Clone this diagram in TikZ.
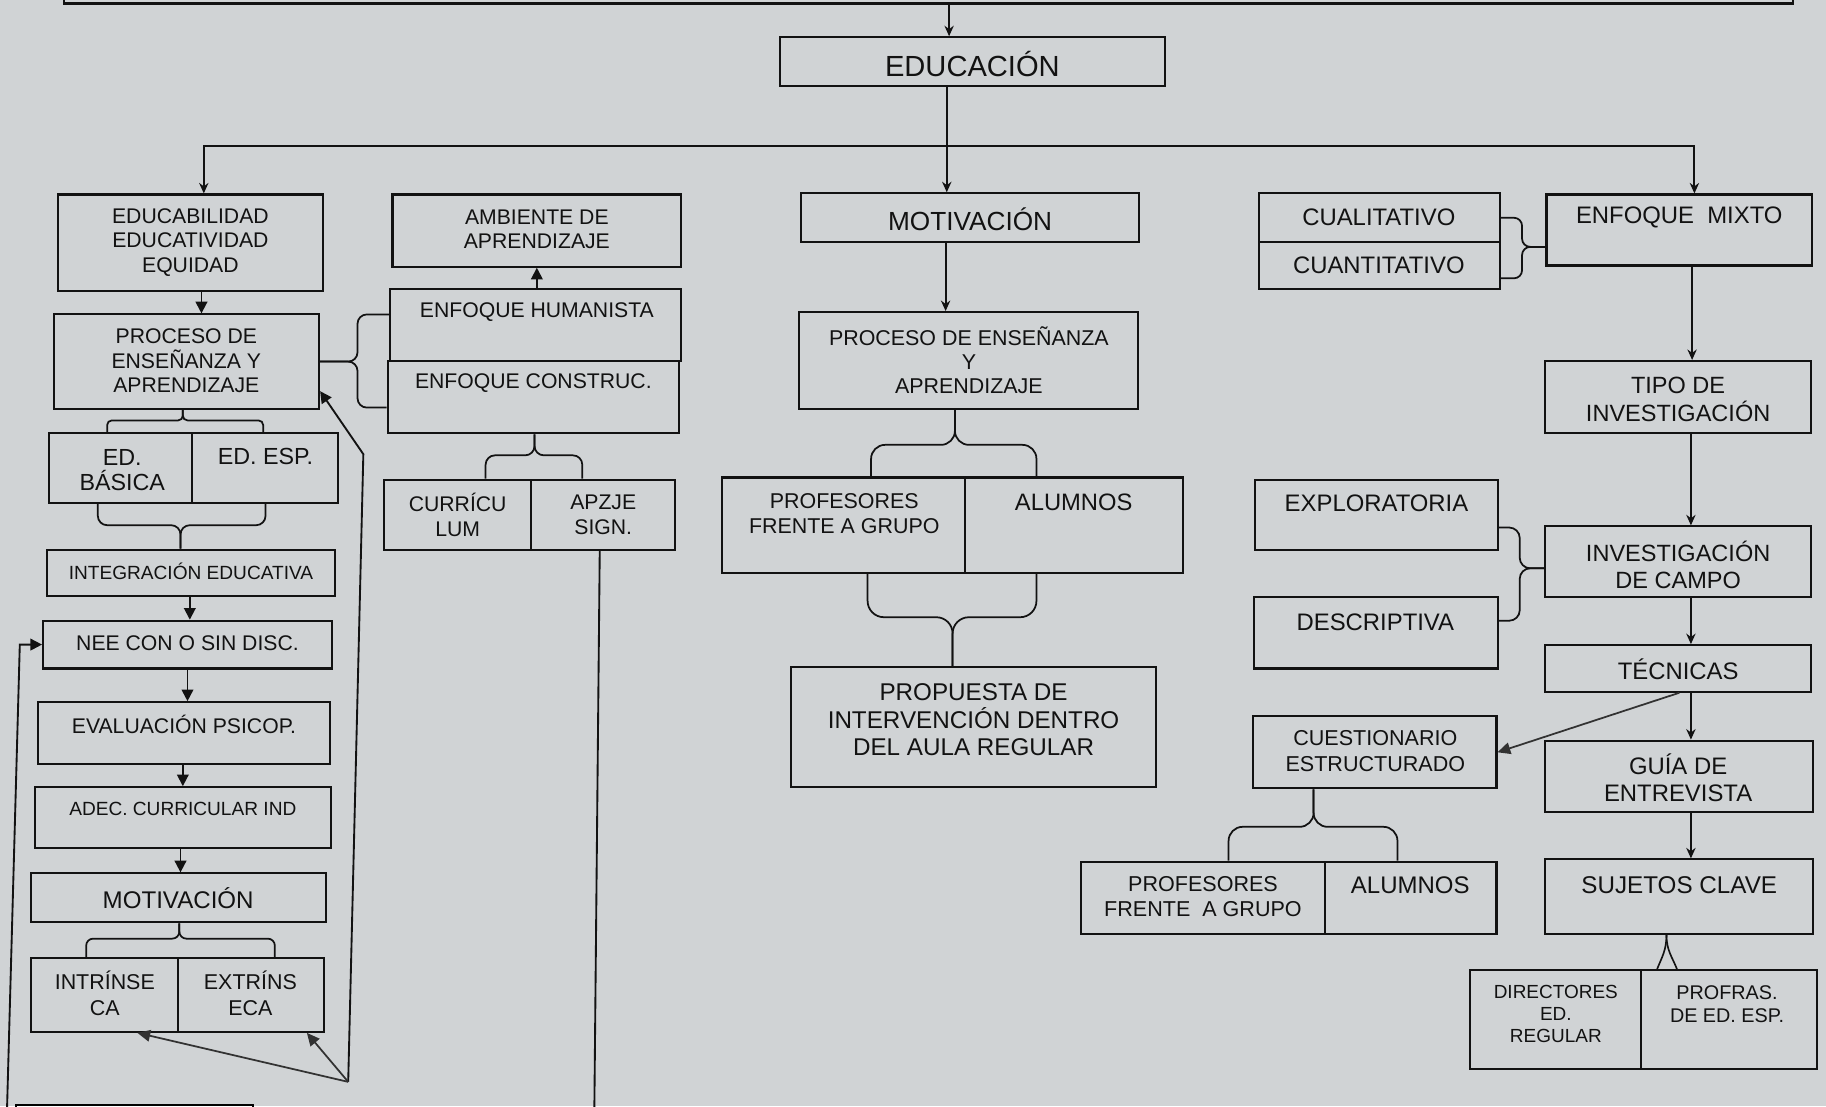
\documentclass[tikz,border=0pt]{standalone}
\usepackage{fontspec}
\setmainfont{Liberation Sans}
\usetikzlibrary{fit,arrows.meta,calc}
\definecolor{bg}{RGB}{208,211,213}
\definecolor{ink}{RGB}{18,18,18}
\definecolor{inkg}{RGB}{50,50,50}
\newcommand\bx[5]{\node[box,fit={(#2,#3)(#4,#5)}] (#1) {};}
\newcommand\tx[5]{\node[txt,#4] (#1) at (#2,#3) {#5};}
\begin{document}
\begin{tikzpicture}[x=1pt,y=-1pt,
  box/.style={draw=ink,line width=1.8pt,inner sep=0pt},
  txt/.style={align=center,inner sep=0pt,text=ink},
  ln/.style={draw=ink,line width=1.6pt},
  arr/.style={ln,-{Stealth[length=9pt,width=8pt]}},
  arrb/.style={ln,-{Triangle[length=10pt,width=10pt]}},
  arrg/.style={draw=inkg,line width=1.5pt,-{Triangle[length=11pt,width=10pt]}},
  brc/.style={ln,line width=1.5pt,rounded corners=#1},
  fA/.style={font=\fontsize{25}{30}\selectfont},
  fM/.style={font=\fontsize{22.5}{27}\selectfont},
  fT/.style={font=\fontsize{20.5}{23.5}\selectfont},
  fE/.style={font=\fontsize{18.2}{21}\selectfont},
  fS/.style={font=\fontsize{16.4}{19}\selectfont}]
\path[use as bounding box,fill=bg] (0,0) rectangle (1568,950);

% ---------- boxes ----------
\bx{topbox}{55}{-40}{1540}{3}
\bx{educacion}{670}{32}{1000}{74}
% left column
\bx{educab}{50}{167}{277}{250}
\bx{pea1}{46}{270}{274}{351}
\bx{edbas}{42}{372}{165}{432}
\bx{edesp}{165}{372}{290}{432}
\bx{integ}{40}{472}{288}{512}
\bx{nee}{37}{533}{285}{574}
\bx{evalp}{33}{603}{283}{656}
\bx{adec}{30}{676}{284}{728}
\bx{motb}{27}{750}{280}{792}
\bx{intr}{27}{823}{153}{886}
\bx{extr}{153}{823}{278}{886}
\node[box,draw={RGB:red,110;green,110;blue,110},fit={(14,949)(217,1000)}] (botbox) {};
% second column
\bx{amb}{337}{167}{585}{229}
\bx{enfh}{335}{248}{585}{310}
\bx{enfc}{333}{310}{583}{372}
\bx{curr}{330}{412}{456}{472}
\bx{apz}{456}{412}{580}{472}
% centre
\bx{motc}{688}{166}{978}{208}
\bx{pea2}{686}{268}{977}{351}
\bx{prof1}{620}{410}{829}{492}
\bx{alum1}{829}{410}{1016}{492}
\bx{prop}{679}{573}{993}{676}
% right
\bx{cual}{1081}{166}{1288}{208}
\bx{cuan}{1081}{208}{1288}{248}
\bx{mixto}{1328}{167}{1556}{228}
\bx{tipo}{1327}{310}{1555}{372}
\bx{expl}{1078}{412}{1286}{472}
\bx{desc}{1077}{513}{1286}{574}
\bx{invc}{1327}{452}{1555}{513}
\bx{tec}{1327}{554}{1555}{594}
\bx{cues}{1076}{615}{1285}{677}
\bx{guia}{1327}{636}{1557}{697}
\bx{suj}{1327}{738}{1557}{802}
\bx{dir}{1262}{833}{1409}{918}
\bx{prf}{1409}{833}{1560}{918}
\bx{prof2}{928}{740}{1138}{802}
\bx{alum2}{1138}{740}{1285}{802}

% ---------- texts ----------
\tx{t-educacion}{835}{55}{fA}{EDUCACIÓN}
\tx{t-educab}{163.5}{208}{fE}{EDUCABILIDAD\\EDUCATIVIDAD\\EQUIDAD}
\tx{t-pea1}{160}{310}{fE}{PROCESO DE\\ENSEÑANZA Y\\APRENDIZAJE}
\tx{t-edbas}{105}{404}{font=\fontsize{20}{21.5}\selectfont}{ED.\\BÁSICA}
\tx{t-edesp}{228}{392}{font=\fontsize{20}{21.5}\selectfont}{ED. ESP.}
\tx{t-integ}{164}{491}{fS}{INTEGRACIÓN EDUCATIVA}
\tx{t-nee}{161}{552}{fE}{NEE CON O SIN DISC.}
\tx{t-evalp}{158}{622}{fE}{EVALUACIÓN PSICOP.}
\tx{t-adec}{157}{695}{fS}{ADEC. CURRICULAR IND}
\tx{t-motb}{153}{771}{font=\fontsize{20.7}{24}\selectfont}{MOTIVACIÓN}
\tx{t-intr}{90}{853}{font=\fontsize{18.4}{22}\selectfont}{INTRÍNSE\\CA}
\tx{t-extr}{215}{853}{font=\fontsize{18.4}{22}\selectfont}{EXTRÍNS\\ECA}
\tx{t-amb}{461}{197}{fE}{AMBIENTE DE\\APRENDIZAJE}
\tx{t-enfh}{461}{268}{fE}{ENFOQUE HUMANISTA}
\tx{t-enfc}{458}{329}{fE}{ENFOQUE CONSTRUC.}
\tx{t-curr}{393}{442}{fE}{CURRÍCU\\LUM}
\tx{t-apz}{518}{442}{fE}{APZJE\\SIGN.}
\tx{t-motc}{833}{188}{fM}{MOTIVACIÓN}
\tx{t-pea2}{832}{309}{font=\fontsize{18.4}{20.5}\selectfont}{PROCESO DE ENSEÑANZA\\Y\\APRENDIZAJE}
\tx{t-prof1}{725}{441}{font=\fontsize{18.4}{21}\selectfont}{PROFESORES\\FRENTE A GRUPO}
\tx{t-alum1}{922}{431}{font=\fontsize{20.4}{24}\selectfont}{ALUMNOS}
\tx{t-prop}{836}{618}{font=\fontsize{20.8}{23.5}\selectfont}{PROPUESTA DE\\INTERVENCIÓN DENTRO\\DEL AULA REGULAR}
\tx{t-cual}{1184}{187}{fT}{CUALITATIVO}
\tx{t-cuan}{1184}{228}{fT}{CUANTITATIVO}
\tx{t-mixto}{1442}{187}{fT}{ENFOQUE\ \ MIXTO}
\tx{t-tipo}{1441}{343}{font=\fontsize{20.2}{24}\selectfont}{TIPO DE\\INVESTIGACIÓN}
\tx{t-expl}{1182}{432}{fT}{EXPLORATORIA}
\tx{t-desc}{1181}{534}{fT}{DESCRIPTIVA}
\tx{t-invc}{1441}{485}{font=\fontsize{20.2}{23}\selectfont}{INVESTIGACIÓN\\DE CAMPO}
\tx{t-tec}{1441}{575}{fT}{TÉCNICAS}
\tx{t-cues}{1181}{645}{font=\fontsize{18.5}{22}\selectfont}{CUESTIONARIO\\ESTRUCTURADO}
\tx{t-guia}{1441}{668}{font=\fontsize{20.5}{23}\selectfont}{GUÍA DE\\ENTREVISTA}
\tx{t-suj}{1442}{760}{font=\fontsize{20.8}{24}\selectfont}{SUJETOS CLAVE}
\tx{t-dir}{1336}{871}{font=\fontsize{16.3}{19}\selectfont}{DIRECTORES\\ED.\\REGULAR}
\tx{t-prf}{1483}{862}{font=\fontsize{17}{20}\selectfont}{PROFRAS.\\DE ED. ESP.}
\tx{t-prof2}{1033}{770}{font=\fontsize{18.5}{21}\selectfont}{PROFESORES\\FRENTE\ \ A GRUPO}
\tx{t-alum2}{1211}{760}{font=\fontsize{20.6}{24}\selectfont}{ALUMNOS}

% ---------- trunk connectors ----------
\draw[arr] (815,0 |- topbox.south) -- (815,0 |- educacion.north);
\draw[ln] (813,0 |- educacion.south) -- (813,125);
\coordinate (hub) at (813,125);
\draw[arr] (hub) -| (175,0 |- educab.north);
\draw[arr] (hub) -| (1455,0 |- mixto.north);
\draw[arr] (hub) -- (813,0 |- motc.north);

% left column
\draw[arrb] (173,0 |- educab.south) -- (173,0 |- pea1.north);
\draw[arrb] (163,0 |- integ.south) -- (163,0 |- nee.north);
\draw[arrb] (161,0 |- nee.south) -- (161,0 |- evalp.north);
\draw[arrb] (157,0 |- evalp.south) -- (157,0 |- adec.north);
\draw[arrb] (155,0 |- adec.south) -- (155,0 |- motb.north);

% braces left column
\draw[brc=4pt] (157,0 |- pea1.south) -- (157,361) -- (92,361) -- (92,0 |- edbas.north);
\draw[brc=4pt] (157,0 |- pea1.south) -- (157,361) -- (226,361) -- (226,0 |- edesp.north);
\draw[brc=8pt] (84,0 |- edbas.south) -- (84,451) -- (155,451) -- (155,0 |- integ.north);
\draw[brc=8pt] (228,0 |- edesp.south) -- (228,451) -- (155,451) -- (155,0 |- integ.north);
\draw[brc=6pt] (154,0 |- motb.south) -- (154,806) -- (74,806) -- (74,0 |- intr.north);
\draw[brc=6pt] (154,0 |- motb.south) -- (154,806) -- (236,806) -- (236,0 |- extr.north);

% feedback lines
\coordinate (j1) at (299,929);
\coordinate (lfb) at (5,990);
\coordinate (apzout) at (510,990);
\draw[arrb] (j1) -- (312,390) -- ([yshift=16pt]pea1.south east);
\draw[arrg] (j1) -- ([xshift=28pt]intr.south);
\draw[arrg] (j1) -- ([xshift=48pt]extr.south);
\draw[arrb] (lfb) -- (17,0 |- nee.west) -- (nee.west);
\draw[ln] (515,0 |- apz.south) -- (apzout);

% second column
\draw[arrb] (461,0 |- enfh.north) -- (461,0 |- amb.south);
\draw[brc=8pt] (pea1.east) -- (307,0 |- pea1.east) -- (307,270) -- (enfh.west |- 0,270);
\draw[brc=8pt] (pea1.east) -- (307,0 |- pea1.east) -- (307,350) -- (enfc.west |- 0,350);
\draw[brc=8pt] (459,0 |- enfc.south) -- (459,391) -- (417,391) -- (417,0 |- curr.north);
\draw[brc=8pt] (459,0 |- enfc.south) -- (459,391) -- (500,391) -- (500,0 |- apz.north);

% centre
\draw[arr] (812,0 |- motc.south) -- (812,0 |- pea2.north);
\draw[brc=12pt] (820,0 |- pea2.south) -- (820,382) -- (748,382) -- (748,0 |- prof1.north);
\draw[brc=12pt] (820,0 |- pea2.south) -- (820,382) -- (890,382) -- (890,0 |- alum1.north);
\draw[brc=14pt] (745,0 |- prof1.south) -- (745,530) -- (818,530) -- (818,0 |- prop.north);
\draw[brc=14pt] (890,0 |- alum1.south) -- (890,530) -- (818,530) -- (818,0 |- prop.north);

% right
\draw[brc=7pt] (cual.east |- 0,187) -- (1307,187) -- (1307,212) -- (mixto.west |- 0,212);
\draw[brc=7pt] (cuan.east |- 0,239) -- (1307,239) -- (1307,212) -- (mixto.west |- 0,212);
\draw[arr] (1453,0 |- mixto.south) -- (1453,0 |- tipo.north);
\draw[arr] (1452,0 |- tipo.south) -- (1452,0 |- invc.north);
\draw[brc=9pt] (expl.east |- 0,453) -- (1305,453) -- (1305,488) -- (invc.west |- 0,488);
\draw[brc=9pt] (desc.east |- 0,533) -- (1305,533) -- (1305,488) -- (invc.west |- 0,488);
\draw[arr] (1452,0 |- invc.south) -- (1452,0 |- tec.north);
\draw[arr] (1452,0 |- tec.south) -- (1452,0 |- guia.north);
\draw[arrg] (1442,0 |- tec.south) -- (cues.east);
\draw[arr] (1452,0 |- guia.south) -- (1452,0 |- suj.north);
\draw[brc=12pt] (1128,0 |- cues.south) -- (1128,710) -- (1055,710) -- (1055,0 |- prof2.north);
\draw[brc=12pt] (1128,0 |- cues.south) -- (1128,710) -- (1200,710) -- (1200,0 |- alum2.north);
\draw[ln,line width=1.4pt] (1423,0 |- dir.north) .. controls (1427,822) and (1431,816) .. (1431,0 |- suj.south);
\draw[ln,line width=1.4pt] (1440,0 |- prf.north) .. controls (1436,822) and (1431,816) .. (1431,0 |- suj.south);
\end{tikzpicture}
\end{document}
